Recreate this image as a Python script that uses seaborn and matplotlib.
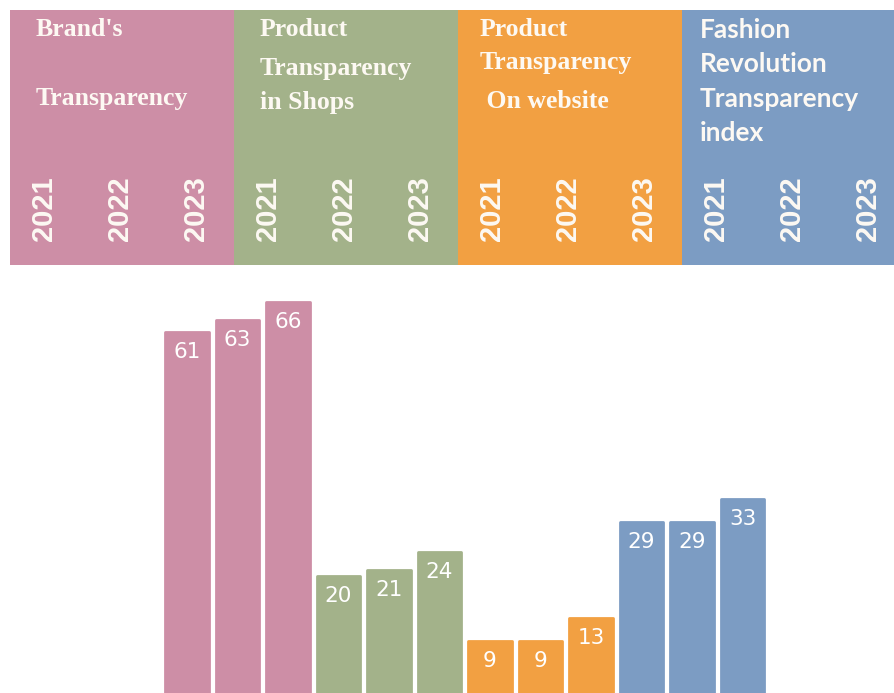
import matplotlib
matplotlib.use("Agg")
import matplotlib.pyplot as plt
import seaborn as sns
import pandas as pd

# ---- data ----
groups = ["Brand's Transparency", "Product Transparency in Shops",
          "Product Transparency On website", "Fashion Revolution Transparency index"]
group_titles = [["Brand's", "", "Transparency"],
                ["Product", "Transparency", "in Shops"],
                ["Product", "Transparency", " On website"],
                ["Fashion", "Revolution", "Transparency", "index"]]
years = ["2021", "2022", "2023"]
brand_vals = [61, 63, 66]
shops_vals = [20, 21, 24]
website_vals = [9, 9, 13]
index_vals = [29, 29, 33]
colors = ["#CD8EA6", "#A3B28A", "#F2A042", "#7C9CC3"]

all_vals = [brand_vals, shops_vals, website_vals, index_vals]
rows = []
for g, vals in zip(groups, all_vals):
    for y, v in zip(years, vals):
        rows.append({"key": f"{g} {y}", "group": g, "year": y, "value": v})
df = pd.DataFrame(rows)

sns.set_theme(style="white")
W, H = 895, 693
fig = plt.figure(figsize=(W / 100, H / 100), dpi=100)
fig.patch.set_facecolor("white")

# ---- bars axes ----
px_per_unit = 5.95
base_px = 695          # baseline y (from top)
top_px = 280
ax = fig.add_axes([0, (H - base_px) / H, 1, (base_px - top_px) / H])
sns.barplot(data=df, x="key", y="value", hue="group", palette=colors,
            dodge=False, width=0.87, saturation=1, legend=False, ax=ax,
            linewidth=0)
step = 50.5
first_c = 187
xmin = -first_c / step
ax.set_xlim(xmin, xmin + W / step)
ax.set_ylim(0, (base_px - top_px) / px_per_unit)
ax.axis("off")
for p in ax.patches:
    h = p.get_height()
    if h <= 0:
        continue
    # slightly rounded corners
    p.set_edgecolor(p.get_facecolor())
    p.set_linewidth(2)
    p.set_joinstyle("round")
    ax.annotate(f"{int(round(h))}", (p.get_x() + p.get_width() / 2, h),
                xytext=(0, -20), textcoords="offset pixels",
                ha="center", va="center", color="white", fontsize=15.5,
                family="DejaVu Sans")

# ---- header axes ----
hx0, hx1 = 10, 906
hy0, hy1 = 10, 265
hax = fig.add_axes([hx0 / W, (H - hy1) / H, (hx1 - hx0) / W, (hy1 - hy0) / H])
hax.set_xlim(0, 4)
hax.set_ylim(0, 1)
hax.axis("off")
hax.bar([i + 0.5 for i in range(4)], [1] * 4, width=1.0, color=colors,
        bottom=0, linewidth=0)

year_offsets = [0.15, 0.49, 0.83]
title_left = [0.116, 0.116, 0.098, 0.08]
title_y_px = [[30, 64, 98], [30, 68, 103], [30, 62, 102], [30, 64, 99, 133]]
for i in range(4):
    for off, yr in zip(year_offsets, years):
        hax.text(i + off, (hy1 - 209) / (hy1 - hy0), yr, rotation=90,
                 ha="center", va="center", color="#FDF9F3",
                 fontsize=21, fontweight="bold", family="Liberation Sans")
    for line, ypx in zip(group_titles[i], title_y_px[i]):
        if not line:
            continue
        if i < 3:
            kw = dict(family="Liberation Serif", fontsize=18.5, fontweight="bold")
        else:
            kw = dict(family="Lato", fontsize=19, fontweight="bold")
        hax.text(i + title_left[i], (hy1 - ypx) / (hy1 - hy0), line,
                 ha="left", va="center", color="#FDF9F3", **kw)

fig.savefig("out.png", dpi=100, facecolor="white")
